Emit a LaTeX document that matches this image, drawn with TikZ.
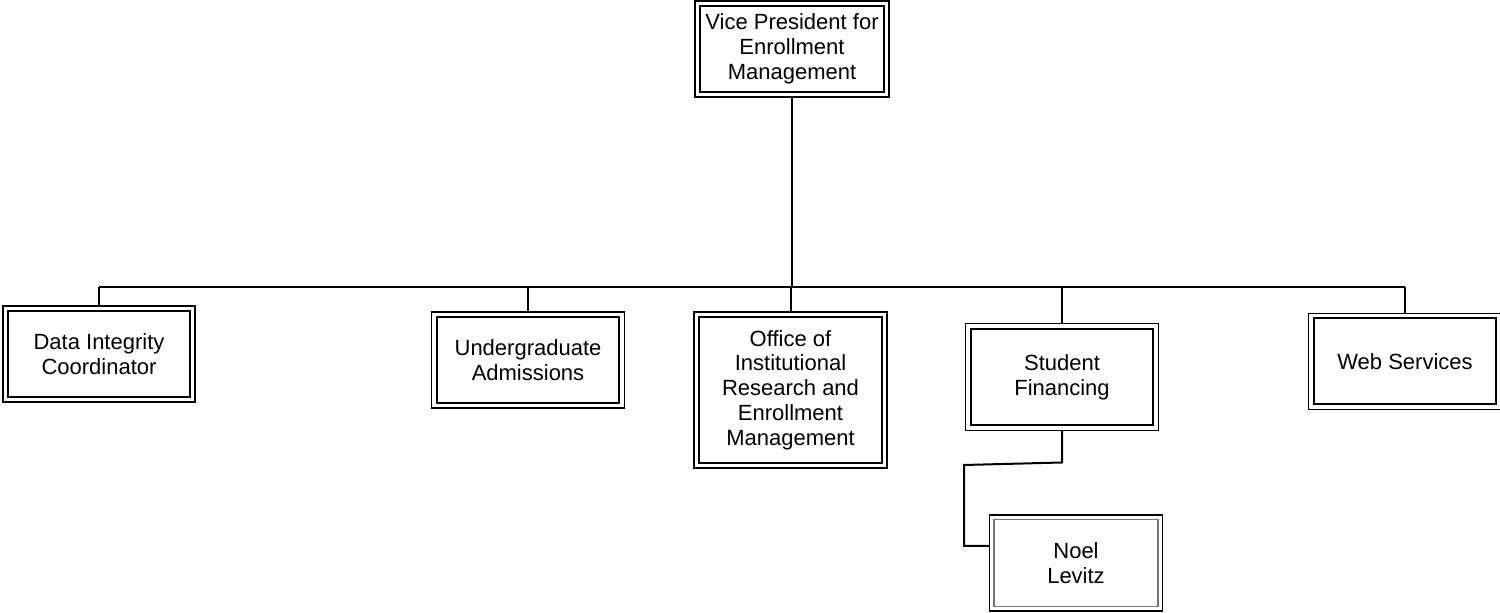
\documentclass[tikz,border=0pt]{standalone}
\usepackage{fontspec}
\setmainfont{Liberation Sans}
\begin{document}
\begin{tikzpicture}[x=0.5pt,y=-0.5pt,
  box/.style={draw=black, line width=0.6pt, inner sep=0pt, outer sep=0pt, align=center,
    font=\fontsize{11}{12.4}\selectfont,
    path picture={\draw[line width=1pt] ([shift={(2.6pt,-2.6pt)}]path picture bounding box.north west) rectangle ([shift={(-2.6pt,2.6pt)}]path picture bounding box.south east);}},
  graybox/.style={draw=black, line width=0.6pt, inner sep=0pt, outer sep=0pt, align=center,
    font=\fontsize{11}{12.4}\selectfont,
    path picture={\draw[line width=0.8pt, draw=black!55] ([shift={(2.2pt,-2.2pt)}]path picture bounding box.north west) rectangle ([shift={(-2.2pt,2.2pt)}]path picture bounding box.south east);}},
  conn/.style={line width=1pt, draw=black}
]
\useasboundingbox (0,0) rectangle (1500,613);
\node[box, minimum width=97pt, minimum height=48pt] (vp) at (792,49) {Vice President for\\Enrollment\\Management};
\node[box, minimum width=96pt, minimum height=48pt] (dic) at (99,354) {Data Integrity\\Coordinator};
\node[box, minimum width=96.5pt, minimum height=48pt] (ua) at (528,360) {Undergraduate\\Admissions};
\node[box, minimum width=96.5pt, minimum height=78pt] (oir) at (790.5,390) {Office of\\Institutional\\Research and\\Enrollment\\Management};
\node[box, minimum width=96.5pt, minimum height=53.5pt] (sf) at (1062,377) {Student\\Financing};
\node[box, minimum width=96.5pt, minimum height=48pt] (ws) at (1405,361.3) {Web Services};
\node[graybox, minimum width=86.5pt, minimum height=48pt] (nl) at (1076,563) {Noel\\Levitz};

\coordinate (bar) at (792,287);
\coordinate (b1) at (99,287);
\coordinate (b2) at (528,287);
\coordinate (b3) at (790.5,287);
\coordinate (b4) at (1062,287);
\coordinate (b5) at (1405,287);
\draw[conn] (vp.south) -- (bar);
\draw[conn] (b1) -- (b5);
\draw[conn] (b1) -- (dic.north);
\draw[conn] (b2) -- (ua.north);
\draw[conn] (b3) -- (oir.north);
\draw[conn] (b4) -- (sf.north);
\draw[conn] (b5) -- (ws.north);

\coordinate (s1) at (1062,462.5);
\coordinate (s2) at (964,465);
\coordinate (s3) at (964,546);
\draw[conn] (sf.south) -- (s1) -- (s2) -- (s3) -- (s3 -| nl.west);
\end{tikzpicture}
\end{document}
